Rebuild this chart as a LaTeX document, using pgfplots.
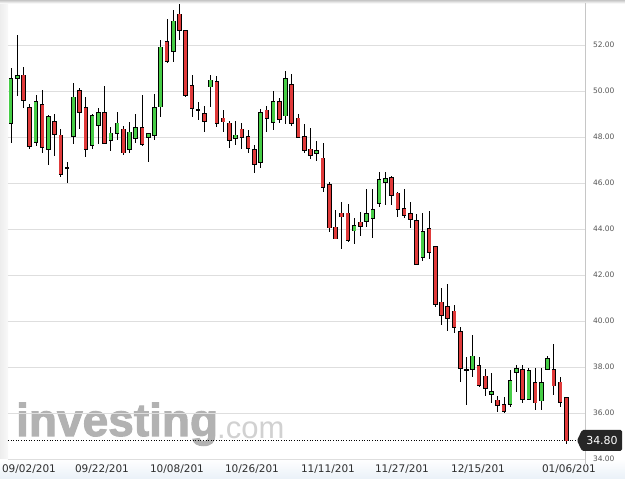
\documentclass[border=0pt]{standalone}
\usepackage{pgfplots}
\pgfplotsset{compat=1.18}
\usepackage{pgfplotstable}
\usepackage{fontspec}
\setmainfont{DejaVu Sans}
\newfontfamily\wmfont{Liberation Sans}
\newfontfamily\wmheavy[FakeBold=2.2]{Liberation Sans Bold}
\definecolor{cgreen}{RGB}{70,205,70}
\definecolor{cred}{RGB}{224,58,58}
\definecolor{gridc}{RGB}{222,222,222}
\definecolor{lblc}{RGB}{85,85,85}
\definecolor{stripc}{RGB}{234,241,248}

\pgfplotstableread{
x O H L C
0 48.60 50.99 47.75 50.52
1 50.55 52.45 49.80 50.67
4 47.77 49.83 47.62 49.51
6 47.46 48.94 46.77 48.87
9 46.64 46.90 45.99 46.64
10 48.03 50.33 47.70 49.72
13 47.64 48.99 47.46 48.90
14 48.51 49.25 47.70 49.06
16 47.86 48.45 47.41 48.16
17 48.16 49.07 47.87 48.59
19 47.46 48.64 47.29 48.20
20 47.94 48.99 47.75 48.38
22 47.99 48.16 46.93 48.12
23 48.07 49.86 47.86 49.25
24 49.32 52.22 48.86 51.90
26 51.72 53.52 51.28 53.03
30 49.17 49.54 48.74 49.17
32 50.19 50.68 49.32 50.46
36 47.94 48.71 47.65 48.07
40 46.90 49.20 46.64 49.03
42 48.65 50.00 48.30 49.54
44 48.93 50.88 48.55 50.51
49 47.29 47.84 46.97 47.41
55 43.93 44.49 43.33 44.12
57 44.36 45.72 44.07 44.65
58 44.46 45.72 43.59 44.83
59 45.12 46.49 44.94 46.13
60 46.03 46.49 45.03 46.17
66 42.77 44.68 42.61 43.86
73 37.87 38.42 36.33 37.87
74 37.90 39.39 37.55 38.46
77 36.81 37.74 36.42 36.91
80 36.38 37.87 36.28 37.38
81 37.77 38.09 36.93 37.90
83 36.59 37.97 36.57 37.83
85 36.54 37.97 36.13 37.32
86 37.90 38.48 37.85 38.35
}\greendata

\pgfplotstableread{
x O H L C
2 50.68 51.03 49.25 49.61
3 49.25 49.42 47.49 47.62
5 49.38 50.04 47.32 47.55
7 48.64 48.99 47.16 48.12
8 48.07 48.33 46.28 46.38
11 50.00 50.12 48.33 49.07
12 49.25 49.72 47.14 47.46
15 49.06 50.23 47.70 47.72
18 48.33 48.48 47.20 47.32
21 48.38 49.83 47.62 47.68
25 52.12 53.13 51.20 51.30
27 53.33 53.78 52.22 52.65
28 52.62 52.65 49.75 49.83
29 50.23 50.70 48.88 49.25
31 48.99 49.36 48.23 48.70
33 50.38 50.67 48.42 48.59
34 48.81 49.17 48.23 48.67
35 48.59 48.70 47.51 47.87
37 48.33 48.59 47.46 47.99
38 47.99 48.30 47.29 47.51
39 47.43 47.65 46.42 46.81
41 49.16 49.35 48.20 48.81
43 49.51 49.68 48.62 48.77
45 50.25 50.72 48.48 48.59
46 48.81 48.99 47.94 47.99
47 48.01 48.57 47.29 47.43
48 47.46 48.41 47.03 47.20
50 47.07 47.72 45.62 45.81
51 45.91 46.03 43.88 44.06
52 44.07 44.83 43.55 43.58
53 44.68 45.16 43.13 44.54
54 44.68 45.09 43.45 43.52
56 44.29 44.75 43.71 44.14
61 46.23 46.30 45.03 45.46
62 45.55 45.62 44.54 44.86
63 44.86 45.72 44.46 44.59
64 44.64 45.16 44.03 44.42
65 44.35 44.64 42.42 42.46
67 43.99 44.80 42.68 42.99
68 43.23 43.23 40.62 40.72
69 40.81 41.45 39.81 40.25
70 40.62 41.59 39.58 40.12
71 40.42 40.68 39.46 39.72
72 39.54 39.74 37.36 37.94
75 38.06 38.45 37.12 37.20
76 37.59 37.90 36.74 37.07
78 36.55 36.74 36.04 36.33
79 36.36 36.71 35.99 36.10
82 37.87 38.09 36.42 36.61
84 37.32 37.94 36.13 36.45
87 37.87 39.00 36.78 37.19
88 37.33 37.58 36.28 36.49
89 36.64 36.64 34.65 34.80
}\reddata

\pgfplotsset{
  wick/.style={draw=none, mark=none, forget plot,
    error bars/.cd, y dir=both, y explicit, error mark=none,
    error bar style={draw=black, line width=0.9pt, line cap=butt, solid}},
  bodyout/.style={draw=none, mark=none, forget plot,
    error bars/.cd, y dir=both, y explicit, error mark=none,
    error bar style={draw=black, line width=4.6pt, line cap=butt, solid}},
  bodyin/.style={draw=none, mark=none, forget plot,
    error bars/.cd, y dir=both, y explicit, error mark=none,
    error bar style={draw=#1, line width=3.0pt, line cap=butt, solid}},
}

\begin{document}
\begin{tikzpicture}[x=1pt,y=1pt]
\useasboundingbox (0,0) rectangle (625,479);
\fill[white] (0,0) rectangle (625,479);
\shade[top color=white, bottom color=stripc] (0,0) rectangle (625,20);
\shade[left color=gray!14, right color=gray!5] (0,20) rectangle (8,476);
\shade[top color=gray!45, bottom color=white] (0,475.5) rectangle (625,479);
% watermark
\node[anchor=base west, inner sep=0, text=gray!60] at (16,43) {\wmheavy\fontsize{46}{46}\selectfont investing};
\node[anchor=base west, inner sep=0, text=gray!36] at (217,40) {\wmfont\fontsize{31}{31}\selectfont .com};
\begin{axis}[
  at={(8pt,20pt)}, anchor=south west,
  width=577pt, height=456pt, scale only axis,
  xmin=-0.48, xmax=91.99, ymin=34, ymax=53.826,
  enlargelimits=false,
  axis line style={draw=none},
  major tick length=0pt,
  tick style={draw=none},
  ytick={34,36,38,40,42,44,46,48,50,52},
  yticklabels={34.00,36.00,38.00,40.00,42.00,44.00,46.00,48.00,50.00,52.00},
  yticklabel pos=right,
  ymajorgrids,
  grid style={gridc, line width=0.8pt},
  xtick={2.88,14.58,26.6,38.62,50.8,62.66,74.84,89.42},
  xticklabels={09/02/201,09/22/201,10/08/201,10/26/201,11/11/201,11/27/201,12/15/201,01/06/201},
  x tick label style={font=\fontsize{10.5}{11}\selectfont, text=black!82, yshift=-2.5pt},
  y tick label style={font=\fontsize{7.5}{8}\selectfont, text=lblc, anchor=west, xshift=4.5pt},
]
\addplot[black, dotted, line width=0.6pt, forget plot] coordinates {(-0.48,34.8) (90.7,34.8)};
% wicks
\addplot[wick] table[x=x, y expr=(\thisrow{H}+\thisrow{L})/2, y error expr=(\thisrow{H}-\thisrow{L})/2] \greendata;
\addplot[wick] table[x=x, y expr=(\thisrow{H}+\thisrow{L})/2, y error expr=(\thisrow{H}-\thisrow{L})/2] \reddata;
% bodies
\addplot[bodyout] table[x=x, y expr=(\thisrow{O}+\thisrow{C})/2, y error expr=abs(\thisrow{C}-\thisrow{O})/2+0.035] \greendata;
\addplot[bodyin=cgreen] table[x=x, y expr=(\thisrow{O}+\thisrow{C})/2, y error expr=abs(\thisrow{C}-\thisrow{O})/2] \greendata;
\addplot[bodyout] table[x=x, y expr=(\thisrow{O}+\thisrow{C})/2, y error expr=abs(\thisrow{C}-\thisrow{O})/2+0.035] \reddata;
\addplot[bodyin=cred] table[x=x, y expr=(\thisrow{O}+\thisrow{C})/2, y error expr=abs(\thisrow{C}-\thisrow{O})/2] \reddata;
\end{axis}
\draw[gray!45, line width=0.8pt] (585,14) -- (585,476);
\fill[black!85, rounded corners=1.5pt] (577,38.4) -- (582,49) -- (622,49) -- (622,28) -- (582,28) -- cycle;
\node[text=white, font=\fontsize{11}{11}\selectfont, inner sep=0] at (602,38.4) {34.80};
\end{tikzpicture}
\end{document}
